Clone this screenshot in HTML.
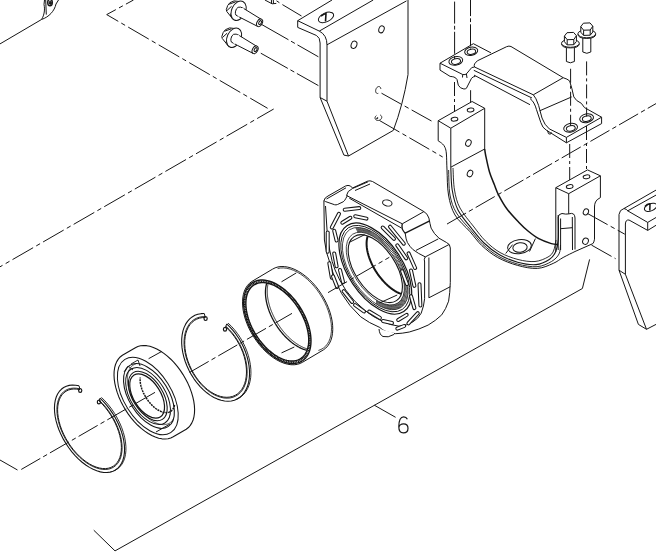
<!DOCTYPE html>
<html><head><meta charset="utf-8"><style>
html,body{margin:0;padding:0;background:#fff;}
body{width:656px;height:556px;overflow:hidden;position:relative;}
svg{position:absolute;left:0;top:0;}
.lbl{position:absolute;left:396px;top:411px;font-family:"Liberation Sans",sans-serif;font-size:22px;color:#333;line-height:22px;}
</style></head><body>
<svg width="656" height="556" viewBox="0 0 656 556" fill="none" stroke="#151515" stroke-width="1" stroke-linejoin="round">
<path d="M0,43.9 L41.5,19.5" />
<path d="M41.5,19.5 C44.5,15 45,9 44,4.5 L44.5,0" />
<path d="M41.5,19.5 C49,17 54.5,11 56,4 L58.5,0" />
<path d="M45.7,0 L46.3,14.6" />
<ellipse cx="50.00" cy="2.60" rx="2.30" ry="3.20" transform="rotate(0 50.00 2.60)" stroke-width="1.4"/>
<ellipse cx="50.30" cy="2.80" rx="1.10" ry="1.60" transform="rotate(0 50.30 2.80)" fill="#222"/>
<path d="M133.5,0 L106.7,14.6 L267.6,108.3" stroke-dasharray="23.8 3.5 4.4 3.6" stroke-dashoffset="15.2"/>
<path d="M273.7,109 L0,266.8" stroke-dasharray="23.8 3.5 4.4 3.6" stroke-dashoffset="4.7"/>
<g transform="translate(238.6,10.7)">
<path d="M-4.5,-9.8 L-8.7,-8 L-10.9,-5.2 L-12.3,-1.1 L-11.9,0.7 L-8.2,5.3 L-5.5,9 L0,8 L2,-9 Z" fill="#fff"/>
<path d="M-9.5,-6.5 L-3,-8.8 M-11.6,-0.2 L-7,-4.5 M-8.2,5.3 L-6.5,0" />
<ellipse cx="0.00" cy="0.00" rx="6.90" ry="10.20" transform="rotate(25 0.00 0.00)" fill="#fff"/>
<path d="M-3.2,1.2 Q-2.6,-2.4 -0.5,-3.4 Q2,-4.2 4.6,-2.5 L22.8,8.7 L19,15.7 L3.2,7.6 L-2.7,4.4 Q-3.4,3 -3.2,1.2 Z" fill="#fff"/>
<path d="M4.6,-2.5 L-0.3,5.8" stroke="#fff" stroke-width="2"/>
<ellipse cx="21.00" cy="12.10" rx="2.60" ry="4.10" transform="rotate(28 21.00 12.10)" fill="#fff"/>
<ellipse cx="21.50" cy="11.90" rx="1.20" ry="2.10" transform="rotate(28 21.50 11.90)" />
</g>
<g transform="translate(234.1,37.7)">
<path d="M-4.5,-9.8 L-8.7,-8 L-10.9,-5.2 L-12.3,-1.1 L-11.9,0.7 L-8.2,5.3 L-5.5,9 L0,8 L2,-9 Z" fill="#fff"/>
<path d="M-9.5,-6.5 L-3,-8.8 M-11.6,-0.2 L-7,-4.5 M-8.2,5.3 L-6.5,0" />
<ellipse cx="0.00" cy="0.00" rx="6.90" ry="10.20" transform="rotate(25 0.00 0.00)" fill="#fff"/>
<path d="M-3.2,1.2 Q-2.6,-2.4 -0.5,-3.4 Q2,-4.2 4.6,-2.5 L22.8,8.7 L19,15.7 L3.2,7.6 L-2.7,4.4 Q-3.4,3 -3.2,1.2 Z" fill="#fff"/>
<path d="M4.6,-2.5 L-0.3,5.8" stroke="#fff" stroke-width="2"/>
<ellipse cx="21.00" cy="12.10" rx="2.60" ry="4.10" transform="rotate(28 21.00 12.10)" fill="#fff"/>
<ellipse cx="21.50" cy="11.90" rx="1.20" ry="2.10" transform="rotate(28 21.50 11.90)" />
</g>
<path d="M261.5,24.4 L318.4,56.8" stroke-dasharray="31 3 4.4 3"/>
<path d="M260.8,53.2 L318.4,85.6" stroke-dasharray="31 3 4.4 3"/>
<path d="M282.4,4.6 L301.5,16" />
<path d="M264.9,0 L272.1,3.8 L276.3,3.4 M271.4,0 L271.6,3.5 M273.3,0 L273.5,3.6 M276.5,0.8 L279.4,2.7" />
<path d="M332,0 L297.7,20.7 L297.7,27.4 L316.5,35.5 Q320.1,37.5 320.1,43 L320.1,97.5 L343.9,155.1 L348.5,156 L393.3,130.4 Q403,105 408,74.6 L408,0" />
<path d="M297.7,20.7 L319.3,31.1 Q327,35 327,45 L327,101.2 L348.5,156" />
<path d="M320.1,97.5 L327,101.2" />
<path d="M319.3,31.1 L373.2,0" />
<path d="M327,44.8 L406.5,0.9" />
<ellipse cx="326.00" cy="17.40" rx="8.20" ry="4.40" transform="rotate(-25 326.00 17.40)" />
<path d="M321,16 Q324,14 326,13.5 L325.5,21.5" stroke-width="1.6"/>
<ellipse cx="381.50" cy="29.30" rx="2.60" ry="3.60" transform="rotate(20 381.50 29.30)" />
<ellipse cx="354.00" cy="44.80" rx="2.80" ry="3.80" transform="rotate(20 354.00 44.80)" />
<path d="M378.26,93.34 L377.99,93.42 L377.73,93.47 L377.46,93.48 L377.21,93.45 L376.97,93.38 L376.74,93.28 L376.53,93.14 L376.33,92.96 L376.16,92.76 L376.01,92.52 L375.88,92.25 L375.78,91.96 L375.70,91.65 L375.65,91.32 L375.63,90.98 L375.64,90.63 L375.67,90.26 L375.74,89.90 L375.83,89.54 L375.94,89.18 L376.09,88.83 L376.25,88.49 L376.44,88.17 L376.64,87.87 L376.86,87.60 L377.10,87.35 L377.35,87.13 L377.61,86.94 L377.87,86.78 L378.14,86.66 L378.41,86.58 L378.67,86.53 L378.94,86.52 L379.19,86.55 L379.43,86.62 L379.66,86.72 L379.87,86.86 L380.07,87.04 L380.24,87.24 L380.39,87.48 L380.52,87.75 L380.62,88.04 L380.70,88.35 L380.75,88.68 L380.77,89.02"/>
<path d="M380.23,115.02 L380.52,115.17 L380.77,115.34 L381.01,115.54 L381.21,115.76 L381.39,116.01 L381.53,116.27 L381.63,116.54 L381.70,116.83 L381.73,117.13 L381.73,117.43 L381.69,117.73 L381.61,118.03 L381.50,118.33 L381.35,118.62 L381.17,118.90 L380.96,119.16 L380.72,119.41 L380.45,119.63 L380.16,119.83 L379.85,120.01 L379.53,120.16 L379.19,120.29 L378.85,120.38 L378.50,120.44 L378.15,120.47 L377.80,120.47 L377.46,120.44 L377.12,120.37 L376.81,120.28 L376.51,120.15 L376.23,120.00 L375.97,119.82 L375.75,119.62 L375.55,119.39 L375.38,119.14 L375.25,118.88 L375.15,118.60 L375.09,118.31 L375.07,118.01 L375.08,117.71 L375.13,117.41 L375.21,117.11 L375.33,116.81 L375.49,116.52 L375.67,116.25 L375.89,115.99 L376.14,115.75 L376.41,115.53"/>
<path d="M376.5,119 L378,117.5" stroke-width="1.3"/>
<path d="M381.5,93.2 L431.5,121" stroke-dasharray="23 3.5 4.5 3.5"/>
<path d="M379.5,120.5 L442.7,157" stroke-dasharray="23 3.5 4.5 3.5"/>
<path d="M619,271 L619,215 Q619.5,209.8 624,208.5 L656,190.1 L656,332 L646.5,329.3 L638.4,324.4 Z" fill="#fff" stroke="none"/>
<path d="M619,214.5 Q619.5,209.8 624,208.5 L656,190.1" />
<path d="M627.6,210.9 L656,195.1" />
<path d="M624,208.5 Q626.5,209 628,211 L647.7,222.4 L656,217.5" />
<path d="M647.7,222.4 L647.7,230.4 L656,225.3" />
<path d="M625.4,224 Q625.6,219.5 629,220 L647.7,230.4" />
<path d="M619,214.5 L619,270.2 L638.4,324.4 L646.5,329.3 L656,324.4" />
<path d="M625.4,224 L625.4,274.3 L646.5,329.3 M619,270.2 L625.4,274.3" />
<ellipse cx="650.60" cy="207.30" rx="6.50" ry="3.60" transform="rotate(-22 650.60 207.30)" />
<path d="M645,206.5 Q647,204 650,203.8 L649.8,210.5" stroke-width="1.5"/>
<path d="M440,63.2 L473.4,43.7 L491,52.9 L507.7,46 L511,46.5 L563.2,77.7 Q568,79 569.6,80.9 L573.8,96.9 Q576,101 581.3,103.3 L584.5,107.6 L601.6,117.2 L601.6,123.6 L566.4,142.8 L549.3,131 L546.1,130 L540.8,122.5 L536.5,109.7 L530,104.7 L475.3,76.4 L471.5,78.3 L466.4,88.3 L463.9,89 L458.3,85.2 L457,79.5 L453.9,77 L450.1,76.4 L440,70.1 Z" fill="#fff" stroke="none"/>
<path d="M440,63.2 L473.4,43.7 L491,52.9" />
<path d="M440,63.2 L440,70.1 L450.1,76.4 Q452.5,76.6 453.9,77 Q456.3,78 457,79.5 L458.3,85.2 Q460,88.5 463.9,89 Q465.5,89 466.4,88.3 L471.5,78.3 Q473,76.5 475.3,76.4" />
<path d="M440,63.2 L462.7,74.5 Q465.5,75 466.4,73.9 L469.6,70.1 Q471.5,66.5 474.6,67" />
<path d="M462.7,74.5 L462.5,77.5 M466.4,73.9 L467,78" />
<path d="M474.6,67 Q473,64 477.8,60.6 L506.6,46.7 Q509,45.6 511,46.5 L563.2,77.7" />
<path d="M474.6,67 L533.3,94.8 L563.2,77.7" />
<path d="M473.8,70.3 L532,98" />
<path d="M474,75.1 L530,104.7" />
<path d="M533.3,94.8 Q536,97.5 538.6,105.4 L542,118 Q544.5,125 549.3,128.9 L566.4,137.4 L601.6,117.2 L584.5,107.6" />
<path d="M530,98.5 Q534.5,102 536.5,109.7 L540.8,122.5 Q542.5,128 546.1,130 L566.4,142.8" />
<path d="M539.7,110.8 L571.7,96.9" />
<path d="M563.2,77.7 Q567.5,79 569.6,80.9 Q572,88 573.8,96.9 Q576,101 581.3,103.3 L584.5,107.6" />
<path d="M566.4,137.4 L566.4,142.8 L601.6,123.6 L601.6,117.2" />
<path d="M547.5,130.5 Q548,135 550.4,134.2 L551.5,132.5" />
<ellipse cx="455.80" cy="60.90" rx="7.00" ry="4.30" transform="rotate(-12 455.80 60.90)" />
<ellipse cx="456.00" cy="61.40" rx="4.60" ry="2.80" transform="rotate(-12 456.00 61.40)" />
<ellipse cx="471.20" cy="51.30" rx="6.60" ry="4.10" transform="rotate(-12 471.20 51.30)" />
<ellipse cx="471.40" cy="51.80" rx="4.30" ry="2.60" transform="rotate(-12 471.40 51.80)" />
<ellipse cx="570.60" cy="127.80" rx="7.00" ry="4.30" transform="rotate(-12 570.60 127.80)" />
<ellipse cx="570.80" cy="128.30" rx="4.50" ry="2.70" transform="rotate(-12 570.80 128.30)" />
<ellipse cx="586.60" cy="118.20" rx="7.00" ry="4.30" transform="rotate(-12 586.60 118.20)" />
<ellipse cx="586.80" cy="118.70" rx="4.50" ry="2.70" transform="rotate(-12 586.80 118.70)" />
<path d="M454.6,0 L454.6,59" stroke-dasharray="22 2.2 3.8 2.2" stroke-dashoffset="28.6"/>
<path d="M470.5,0 L470.5,50" stroke-dasharray="22 2.2 3.8 2.2" stroke-dashoffset="5.9"/>
<path d="M454.5,82 L454.5,117.5" stroke-dasharray="14 3 3 3"/>
<path d="M470.6,90.2 L470.6,108.5" stroke-dasharray="14 3 3 3"/>
<path d="M570.6,68.75 L570.6,126" stroke-dasharray="14 3 3 3"/>
<path d="M586.6,61.4 L586.6,116.5" stroke-dasharray="14 3 3 3"/>
<path d="M569.7,144 L569.7,186" stroke-dasharray="14 3 3 3"/>
<path d="M586.5,126 L586.5,176.5" stroke-dasharray="14 3 3 3"/>
<g transform="translate(570.4,43.3)">
<path d="M-4,3.5 L-4,18.2 Q0,20.8 4,18.2 L4,3.5 Z" fill="#fff"/>
<path d="M-8.9,0.3 Q-8.9,4.6 0,4.6 Q8.9,4.6 8.9,0.3" fill="#fff"/>
<ellipse cx="0.00" cy="0.00" rx="8.90" ry="4.00" transform="rotate(0 0.00 0.00)" fill="#fff"/>
<path d="M-6,-7.2 L-3.4,-10.6 L3.2,-10.9 L6,-7.6 L6,-1.8 L3.4,1.4 L-3.2,1.6 L-6,-1.6 Z" fill="#fff"/>
<path d="M-6,-7.2 L-3.2,-3.6 L3.4,-3.8 L6,-7.6 M-3.2,-3.6 L-3.2,1.6 M3.4,-3.8 L3.4,1.4" />
</g>
<g transform="translate(586.8,33.8)">
<path d="M-4,3.5 L-4,18.2 Q0,20.8 4,18.2 L4,3.5 Z" fill="#fff"/>
<path d="M-8.9,0.3 Q-8.9,4.6 0,4.6 Q8.9,4.6 8.9,0.3" fill="#fff"/>
<ellipse cx="0.00" cy="0.00" rx="8.90" ry="4.00" transform="rotate(0 0.00 0.00)" fill="#fff"/>
<path d="M-6,-7.2 L-3.4,-10.6 L3.2,-10.9 L6,-7.6 L6,-1.8 L3.4,1.4 L-3.2,1.6 L-6,-1.6 Z" fill="#fff"/>
<path d="M-6,-7.2 L-3.2,-3.6 L3.4,-3.8 L6,-7.6 M-3.2,-3.6 L-3.2,1.6 M3.4,-3.8 L3.4,1.4" />
</g>
<path d="M438.2,120.7 L472.1,101.5 L484.7,108.3 L450.8,128.2 Z" fill="#fff"/>
<ellipse cx="454.50" cy="119.20" rx="3.40" ry="1.90" transform="rotate(-8 454.50 119.20)" />
<ellipse cx="470.60" cy="110.00" rx="3.40" ry="1.90" transform="rotate(-8 470.60 110.00)" />
<path d="M438.2,120.7 L438.2,140.8 L438.20,140.80 C438.93,141.33 441.45,142.85 442.60,144.00 C443.75,145.15 444.47,146.03 445.10,147.70 C445.73,149.37 446.08,150.28 446.40,154.00 C446.72,157.72 446.65,163.17 447.00,170.00 C447.35,176.83 447.17,187.50 448.50,195.00 C449.83,202.50 451.42,208.88 455.00,215.00 C458.58,221.12 465.52,226.60 470.00,231.70 C474.48,236.80 477.28,241.30 481.90,245.60 C486.52,249.90 491.75,254.20 497.70,257.50 C503.65,260.80 510.98,263.58 517.60,265.40 C524.22,267.22 531.47,268.73 537.40,268.40 C543.33,268.07 548.92,265.22 553.20,263.40 C557.48,261.58 559.47,259.48 563.10,257.50 C566.73,255.52 573.02,252.50 575.00,251.50" />
<path d="M450.8,128.2 L450.8,167.2 L484.7,149 L484.7,108.3" />
<path d="M484.70,149.00 C484.85,150.00 484.80,151.17 485.60,155.00 C486.40,158.83 488.02,167.00 489.50,172.00 C490.98,177.00 493.00,181.20 494.50,185.00 C496.00,188.80 496.42,190.80 498.50,194.80 C500.58,198.80 503.63,204.43 507.00,209.00 C510.37,213.57 515.20,218.53 518.70,222.20 C522.20,225.87 524.65,228.25 528.00,231.00 C531.35,233.75 534.92,236.60 538.80,238.70 C542.68,240.80 548.07,242.62 551.30,243.60 C554.53,244.58 557.05,244.43 558.20,244.60" stroke-width="1.5"/>
<path d="M450.80,167.20 C451.03,171.00 451.00,182.87 452.20,190.00 C453.40,197.13 454.70,203.50 458.00,210.00 C461.30,216.50 467.67,223.50 472.00,229.00 C476.33,234.50 479.50,238.75 484.00,243.00 C488.50,247.25 493.40,251.30 499.00,254.50 C504.60,257.70 511.43,260.52 517.60,262.20 C523.77,263.88 530.72,265.05 536.00,264.60 C541.28,264.15 546.05,261.60 549.30,259.50 C552.55,257.40 554.02,255.25 555.50,252.00 C556.98,248.75 557.75,246.17 558.20,240.00 C558.65,233.83 558.20,219.17 558.20,215.00" stroke-width="1.1"/>
<path d="M448.60,170.00 C448.83,174.17 448.68,187.83 450.00,195.00 C451.32,202.17 453.00,207.08 456.50,213.00 C460.00,218.92 466.58,225.25 471.00,230.50 C475.42,235.75 478.42,240.20 483.00,244.50 C487.58,248.80 492.75,253.05 498.50,256.30 C504.25,259.55 511.08,262.27 517.50,264.00 C523.92,265.73 531.33,267.12 537.00,266.70 C542.67,266.28 547.83,263.62 551.50,261.50 C555.17,259.38 557.50,256.75 559.00,254.00 C560.50,251.25 560.25,246.50 560.50,245.00" stroke-width="0.9"/>
<path d="M453.00,168.00 C453.25,171.67 453.33,183.33 454.50,190.00 C455.67,196.67 456.75,201.83 460.00,208.00 C463.25,214.17 469.75,221.50 474.00,227.00 C478.25,232.50 481.17,236.75 485.50,241.00 C489.83,245.25 494.58,249.42 500.00,252.50 C505.42,255.58 512.17,258.00 518.00,259.50 C523.83,261.00 530.00,261.92 535.00,261.50 C540.00,261.08 544.92,258.75 548.00,257.00 C551.08,255.25 552.17,253.83 553.50,251.00 C554.83,248.17 555.58,241.83 556.00,240.00" stroke-width="0.9"/>
<ellipse cx="468.40" cy="143.00" rx="2.60" ry="3.40" transform="rotate(25 468.40 143.00)" />
<ellipse cx="470.00" cy="173.50" rx="2.60" ry="3.40" transform="rotate(25 470.00 173.50)" />
<ellipse cx="519.50" cy="246.60" rx="11.90" ry="7.00" transform="rotate(-8 519.50 246.60)" />
<ellipse cx="520.00" cy="247.50" rx="7.20" ry="4.80" transform="rotate(-8 520.00 247.50)" />
<path d="M505.7,253.5 L512.6,244.6 M535.4,238.6 L529.5,251.5" />
<path d="M555.8,187.7 L587.5,169.9 L600.4,175.8 L568.7,193.7 Z" fill="#fff"/>
<ellipse cx="569.70" cy="186.60" rx="3.40" ry="1.90" transform="rotate(-8 569.70 186.60)" />
<ellipse cx="586.50" cy="176.80" rx="3.40" ry="1.90" transform="rotate(-8 586.50 176.80)" />
<path d="M555.8,187.7 L555.8,252 M568.7,193.7 L568.7,213.9" />
<path d="M600.4,175.8 L600.4,197.6 Q596.5,199.5 595.5,202 Q594.5,204 594.5,207 L594.5,239.2 Q594,242.5 592.9,243.6 L575,251.5" />
<path d="M558.2,250 L558.2,217 Q558.5,214 562,213.5 Q566,214.5 568.7,213.9 Q572,212.8 573.5,214 Q575,215.5 575,218 L575,249.5" />
<path d="M560.6,250 L560.6,218.5 M572.3,217 L572.5,250 M560.6,228.7 L572.3,227.7" />
<ellipse cx="585.90" cy="211.90" rx="2.50" ry="3.20" transform="rotate(25 585.90 211.90)" />
<ellipse cx="585.50" cy="241.20" rx="2.80" ry="3.20" transform="rotate(25 585.50 241.20)" />
<path d="M587.5,213.5 L624.8,234.2" stroke-dasharray="23 3.5 4.5 3.5"/>
<path d="M591.5,245.1 L615.6,258.7" stroke-dasharray="23 3.5 4.5 3.5"/>
<path d="M323.9,201 Q324.5,197.5 328,196 L345.5,186 Q348,184.8 350.5,186 L352.5,188 L367.5,181.2 Q370,180.3 372.5,181.5 L423.9,211.6 Q427.5,213.5 428.9,218.1 Q430,224 431.1,228.1 Q434,234 439,238.2 L446.5,242.5 Q450.3,244 450.3,248 L450.3,282.4 Q450,293 448.6,301.2 Q446,309 441.7,314.9 Q436,320.5 428.1,325.1 Q419,329.5 409.3,332 Q402,333.5 395.6,333.7 L387.1,332 Q382,330 379.9,327.5 Q369,323 360.7,316.8 Q349,306 341.5,293.4 Q334,280 330.8,265.6 Q325.5,252 324.4,240 Z" fill="#fff"/>
<path d="M324.2,200.5 Q324.5,201.5 325.6,201.6 L334.5,204.7 Q336,205.2 337.5,204.5 L343.2,201.8 Q345,200.5 345.9,198.3 L347.5,195.4" />
<path d="M326.5,199 L346,187.8" />
<path d="M352.5,188.5 Q347,191 346.5,195.5 L402.3,223.8 L423.9,211.6" />
<path d="M352.5,188.5 L368,181.8" />
<path d="M355,190.5 L370,184" />
<path d="M349.3,198.2 L401.6,228.1" />
<path d="M402.3,223.8 Q400.8,229 405.2,233.2 L429.7,220.9" stroke-width="1.3"/>
<path d="M405.2,233.2 Q406,240 407.4,242.5 Q410,247 413.1,249.7 Q418,253.5 425.3,256.9 L449.1,244.5" />
<path d="M416,250.4 L438.3,238.9" />
<path d="M425.3,256.9 Q423.6,259 424.6,262 L424.6,298.7" />
<path d="M428.9,257.5 L428.9,297.8 L450.3,286.7" />
<path d="M325.5,206 L326.5,222 Q327.5,240 329.7,250 Q332,263 335.1,270 Q339,280 345.7,290 Q354,302 364.9,310.4 Q373,317 382,321.1 Q391,325.5 399,326.2 Q407,325.5 412.7,322 Q418.5,318.5 421.2,313.2 Q424,306 424.6,298.7" />
<path d="M379,329 Q379.5,335 383,336.5 Q388,338 393.9,334.5 L395,333" fill="#fff"/>
<ellipse cx="387.30" cy="203.00" rx="4.80" ry="3.00" transform="rotate(12 387.30 203.00)" />
<ellipse cx="375.30" cy="268.60" rx="27.20" ry="51.50" transform="rotate(-33.5 375.30 268.60)" fill="#fff" stroke-width="1.2"/>
<ellipse cx="375.30" cy="268.60" rx="25.84" ry="48.92" transform="rotate(-33.5 375.30 268.60)" stroke-width="0.9"/>
<ellipse cx="375.30" cy="268.60" rx="24.62" ry="46.61" transform="rotate(-33.5 375.30 268.60)" stroke-width="0.7"/>
<ellipse cx="375.30" cy="268.60" rx="21.76" ry="41.20" transform="rotate(-33.5 375.30 268.60)" stroke-width="0.7"/>
<path d="M355.9,227.8L358.0,232.3M356.8,227.7L358.9,232.2M357.8,227.7L359.7,232.2M358.7,227.7L360.6,232.2M359.7,227.7L361.5,232.3M360.7,227.9L362.4,232.4M361.8,228.0L363.3,232.5M362.8,228.2L364.2,232.7M363.9,228.5L365.2,233.0M365.0,228.8L366.1,233.2M366.1,229.2L367.1,233.6M367.2,229.6L368.1,233.9M368.3,230.1L369.0,234.3M369.4,230.6L370.0,234.8M370.5,231.1L371.0,235.3M371.6,231.7L372.1,235.8M372.8,232.4L373.1,236.4M373.9,233.0L374.1,237.0M375.1,233.8L375.1,237.6M376.2,234.5L376.1,238.3M377.3,235.4L377.1,239.1M378.5,236.2L378.1,239.8M379.6,237.1L379.1,240.6M380.8,238.0L380.1,241.4M381.9,239.0L381.1,242.3M383.0,240.0L382.1,243.2M384.1,241.1L383.1,244.1M385.2,242.1L384.1,245.1M386.3,243.2L385.1,246.1M387.3,244.4L386.0,247.1M388.4,245.5L386.9,248.1M389.4,246.7L387.9,249.2M390.5,248.0L388.8,250.3M391.5,249.2L389.7,251.4M392.4,250.5L390.5,252.5M393.4,251.8L391.4,253.6M394.3,253.1L392.2,254.8M395.3,254.4L393.0,256.0M396.2,255.8L393.8,257.2M397.0,257.1L394.6,258.4M397.9,258.5L395.4,259.6M398.7,259.9L396.1,260.9M399.5,261.3L396.8,262.1M400.2,262.7L397.5,263.4M400.9,264.1L398.1,264.6M401.6,265.6L398.7,265.9M402.3,267.0L399.3,267.2M402.9,268.4L399.9,268.4M403.5,269.8L400.4,269.7M404.1,271.3L400.9,271.0M404.6,272.7L401.4,272.2M405.1,274.1L401.8,273.5M405.6,275.5L402.2,274.8M406.0,276.9L402.6,276.0M406.4,278.3L402.9,277.2M406.7,279.7L403.2,278.5M407.0,281.1L403.5,279.7M407.3,282.4L403.7,280.9M407.5,283.8L403.9,282.1M407.7,285.1L404.1,283.2M407.8,286.4L404.2,284.4M407.9,287.7L404.3,285.5M408.0,288.9L404.4,286.6M408.0,290.1L404.4,287.7M408.0,291.3L404.4,288.8M408.0,292.5L404.3,289.9M407.9,293.7L404.3,290.9M407.7,294.8L404.1,291.9M407.6,295.9L404.0,292.8M407.4,296.9L403.8,293.8M407.1,297.9L403.6,294.7M406.8,298.9L403.3,295.5M406.5,299.8L403.0,296.4M406.1,300.7L402.7,297.2M405.7,301.6L402.4,297.9M405.3,302.4L402.0,298.7M404.8,303.2L401.5,299.4M404.3,304.0L401.1,300.0M403.8,304.7L400.6,300.7M403.2,305.3L400.1,301.2M402.6,305.9L399.5,301.8M401.9,306.5L399.0,302.3M401.2,307.0L398.4,302.7M400.5,307.5L397.7,303.2M399.8,307.9L397.1,303.5M399.0,308.3L396.4,303.9M398.2,308.6L395.7,304.2M397.4,308.9L394.9,304.4M396.5,309.1L394.2,304.6M395.6,309.3L393.4,304.8M394.7,309.4L392.6,304.9M393.8,309.5L391.7,305.0M392.8,309.5L390.9,305.0M391.9,309.5L390.0,305.0M390.9,309.5L389.1,304.9M389.9,309.3L388.2,304.8M388.8,309.2L387.3,304.7M387.8,309.0L386.4,304.5M386.7,308.7L385.4,304.2M385.6,308.4L384.5,304.0M384.5,308.0L383.5,303.6M383.4,307.6L382.5,303.3M382.3,307.1L381.6,302.9M381.2,306.6L380.6,302.4M380.1,306.1L379.6,301.9M379.0,305.5L378.5,301.4M377.8,304.8L377.5,300.8M376.7,304.2L376.5,300.2" stroke-width="0.75"/>
<ellipse cx="375.30" cy="268.60" rx="20.26" ry="38.37" transform="rotate(-33.5 375.30 268.60)" stroke-width="1.1"/>
<path d="M401.10,293.90 L400.65,293.74 L400.20,293.57 L399.74,293.38 L399.28,293.19 L398.82,292.99 L398.36,292.77 L397.90,292.55 L397.44,292.32 L396.97,292.08 L396.51,291.83 L396.04,291.57 L395.57,291.30 L395.10,291.02 L394.63,290.73 L394.16,290.44 L393.69,290.13 L393.22,289.82 L392.75,289.50 L392.28,289.17 L391.82,288.83 L391.35,288.48 L390.88,288.13 L390.41,287.76 L389.95,287.39 L389.48,287.01 L389.02,286.62 L388.56,286.23 L388.09,285.83 L387.64,285.42 L387.18,285.00 L386.72,284.57 L386.27,284.14 L385.82,283.71 L385.37,283.26 L384.92,282.81 L384.48,282.35 L384.04,281.89 L383.60,281.42 L383.16,280.94 L382.73,280.46 L382.30,279.97 L381.88,279.47 L381.46,278.97 L381.04,278.47 L380.62,277.96 L380.21,277.44 L379.81,276.92 L379.40,276.40 L379.01,275.87 L378.61,275.34 L378.22,274.80 L377.84,274.26 L377.46,273.71 L377.09,273.16 L376.72,272.61 L376.35,272.05 L375.99,271.49 L375.64,270.93 L375.29,270.37 L374.95,269.80 L374.61,269.23 L374.28,268.65 L373.95,268.08 L373.63,267.50 L373.32,266.92 L373.01,266.34 L372.71,265.76 L372.41,265.18 L372.13,264.59 L371.84,264.01 L371.57,263.42 L371.30,262.83 L371.04,262.25 L370.78,261.66 L370.53,261.07 L370.29,260.48 L370.06,259.90 L369.83,259.31 L369.61,258.72 L369.40,258.14 L369.19,257.55 L369.00,256.97 L368.81,256.39 L368.62,255.81 L368.45,255.23 L368.28,254.66 L368.12,254.08 L367.97,253.51 L367.82,252.94 L367.69,252.37 L367.56,251.81 L367.44,251.25 L367.32,250.69 L367.22,250.13 L367.12,249.58 L367.03,249.04 L366.95,248.49 L366.88,247.95 L366.81,247.42 L366.76,246.88 L366.71,246.36 L366.67,245.83 L366.64,245.32 L366.61,244.80 L366.60,244.30 L366.59,243.79 L366.59,243.30 L366.60,242.81 L366.62,242.32 L366.64,241.84 L366.68,241.37 L366.72,240.90 L366.77,240.44 L366.83,239.98 L366.89,239.53 L366.97,239.09 L367.05,238.66 L367.14,238.23 L367.24,237.81 L367.34,237.39 L367.46,236.99 L367.58,236.59 L367.71,236.20" stroke-width="2"/>
<path d="M348.8,242.6 L364.6,234.7 M379.4,303 L397.2,295" />
<path d="M331.8,227.5 L339,213.8" stroke-width="4.0" stroke-linecap="round" stroke="#151515"/>
<path d="M331.8,227.5 L339,213.8" stroke-width="1.9" stroke-linecap="round" stroke="#fff"/>
<path d="M342.3,222.7 L350.4,217.8" stroke-width="4.0" stroke-linecap="round" stroke="#151515"/>
<path d="M342.3,222.7 L350.4,217.8" stroke-width="1.9" stroke-linecap="round" stroke="#fff"/>
<path d="M355.2,216.2 L366.5,218.6" stroke-width="4.0" stroke-linecap="round" stroke="#151515"/>
<path d="M355.2,216.2 L366.5,218.6" stroke-width="1.9" stroke-linecap="round" stroke="#fff"/>
<path d="M344.7,209.7 L359.3,208.1" stroke-width="4.0" stroke-linecap="round" stroke="#151515"/>
<path d="M344.7,209.7 L359.3,208.1" stroke-width="1.9" stroke-linecap="round" stroke="#fff"/>
<path d="M327.7,232.4 L327.7,251.8" stroke-width="4.0" stroke-linecap="round" stroke="#151515"/>
<path d="M327.7,232.4 L327.7,251.8" stroke-width="1.9" stroke-linecap="round" stroke="#fff"/>
<path d="M334.2,230.7 L336.6,240.5" stroke-width="4.0" stroke-linecap="round" stroke="#151515"/>
<path d="M334.2,230.7 L336.6,240.5" stroke-width="1.9" stroke-linecap="round" stroke="#fff"/>
<path d="M334.2,253.4 L336.6,266.3" stroke-width="4.0" stroke-linecap="round" stroke="#151515"/>
<path d="M334.2,253.4 L336.6,266.3" stroke-width="1.9" stroke-linecap="round" stroke="#fff"/>
<path d="M329.3,263.1 L331.8,277.7" stroke-width="4.0" stroke-linecap="round" stroke="#151515"/>
<path d="M329.3,263.1 L331.8,277.7" stroke-width="1.9" stroke-linecap="round" stroke="#fff"/>
<path d="M382.7,227.5 L394,238.8" stroke-width="4.0" stroke-linecap="round" stroke="#151515"/>
<path d="M382.7,227.5 L394,238.8" stroke-width="1.9" stroke-linecap="round" stroke="#fff"/>
<path d="M390,226.7 L403.8,243.7" stroke-width="4.0" stroke-linecap="round" stroke="#151515"/>
<path d="M390,226.7 L403.8,243.7" stroke-width="1.9" stroke-linecap="round" stroke="#fff"/>
<path d="M397.3,245.3 L406.2,258.3" stroke-width="4.0" stroke-linecap="round" stroke="#151515"/>
<path d="M397.3,245.3 L406.2,258.3" stroke-width="1.9" stroke-linecap="round" stroke="#fff"/>
<path d="M408.6,253.4 L415.1,268" stroke-width="4.0" stroke-linecap="round" stroke="#151515"/>
<path d="M408.6,253.4 L415.1,268" stroke-width="1.9" stroke-linecap="round" stroke="#fff"/>
<path d="M402.1,271.2 L407,284.1" stroke-width="4.0" stroke-linecap="round" stroke="#151515"/>
<path d="M402.1,271.2 L407,284.1" stroke-width="1.9" stroke-linecap="round" stroke="#fff"/>
<path d="M411,270.5 L414.4,285.9" stroke-width="4.0" stroke-linecap="round" stroke="#151515"/>
<path d="M411,270.5 L414.4,285.9" stroke-width="1.9" stroke-linecap="round" stroke="#fff"/>
<path d="M419.5,284.2 L420.4,305.5" stroke-width="4.0" stroke-linecap="round" stroke="#151515"/>
<path d="M419.5,284.2 L420.4,305.5" stroke-width="1.9" stroke-linecap="round" stroke="#fff"/>
<path d="M411,296.1 L414.4,308.1" stroke-width="4.0" stroke-linecap="round" stroke="#151515"/>
<path d="M411,296.1 L414.4,308.1" stroke-width="1.9" stroke-linecap="round" stroke="#fff"/>
<path d="M408.4,323.4 L417.8,313.2" stroke-width="4.0" stroke-linecap="round" stroke="#151515"/>
<path d="M408.4,323.4 L417.8,313.2" stroke-width="1.9" stroke-linecap="round" stroke="#fff"/>
<path d="M398.2,320 L406.7,314.9" stroke-width="4.0" stroke-linecap="round" stroke="#151515"/>
<path d="M398.2,320 L406.7,314.9" stroke-width="1.9" stroke-linecap="round" stroke="#fff"/>
<path d="M397.3,328.6 L404.2,326" stroke-width="4.0" stroke-linecap="round" stroke="#151515"/>
<path d="M397.3,328.6 L404.2,326" stroke-width="1.9" stroke-linecap="round" stroke="#fff"/>
<path d="M369.2,311.5 L379.9,317.9" stroke-width="4.0" stroke-linecap="round" stroke="#151515"/>
<path d="M369.2,311.5 L379.9,317.9" stroke-width="1.9" stroke-linecap="round" stroke="#fff"/>
<path d="M343.6,291.2 L352.1,301.9" stroke-width="4.0" stroke-linecap="round" stroke="#151515"/>
<path d="M343.6,291.2 L352.1,301.9" stroke-width="1.9" stroke-linecap="round" stroke="#fff"/>
<path d="M333,276.3 L337.2,287" stroke-width="4.0" stroke-linecap="round" stroke="#151515"/>
<path d="M333,276.3 L337.2,287" stroke-width="1.9" stroke-linecap="round" stroke="#fff"/>
<path d="M340,270 L343,282" stroke-width="4.0" stroke-linecap="round" stroke="#151515"/>
<path d="M340,270 L343,282" stroke-width="1.9" stroke-linecap="round" stroke="#fff"/>
<path d="M355,305 L364,311.5" stroke-width="4.0" stroke-linecap="round" stroke="#151515"/>
<path d="M355,305 L364,311.5" stroke-width="1.9" stroke-linecap="round" stroke="#fff"/>
<path d="M383,321 L392,323" stroke-width="4.0" stroke-linecap="round" stroke="#151515"/>
<path d="M383,321 L392,323" stroke-width="1.9" stroke-linecap="round" stroke="#fff"/>
<path d="M302.79,362.12 L300.18,363.46 L297.31,364.35 L294.23,364.77 L290.96,364.72 L287.54,364.20 L284.01,363.21 L280.41,361.77 L276.77,359.90 L273.13,357.60 L269.55,354.92 L266.05,351.87 L262.67,348.49 L259.45,344.82 L256.43,340.89 L253.63,336.76 L251.10,332.47 L248.85,328.05 L246.91,323.57 L245.31,319.07 L244.06,314.60 L243.17,310.21 L242.66,305.94 L242.52,301.85 L242.77,297.98 L243.39,294.36 L244.39,291.05 L245.75,288.08 L247.45,285.47 L249.48,283.27 L251.81,281.48 L272.51,269.18 L275.12,267.84 L277.99,266.95 L281.07,266.53 L284.34,266.58 L287.76,267.10 L291.29,268.09 L294.89,269.53 L298.53,271.40 L302.17,273.70 L305.75,276.38 L309.25,279.43 L312.63,282.81 L315.85,286.48 L318.87,290.41 L321.67,294.54 L324.20,298.83 L326.45,303.25 L328.39,307.73 L329.99,312.23 L331.24,316.70 L332.13,321.09 L332.64,325.36 L332.78,329.45 L332.53,333.32 L331.91,336.94 L330.91,340.25 L329.55,343.22 L327.85,345.83 L325.82,348.03 L323.49,349.82 Z" fill="#fff" />
<path d="M277.62,268.56 L280.51,268.01 L283.60,267.93 L286.84,268.30 L290.20,269.12 L293.65,270.38 L297.15,272.07 L300.65,274.17 L304.13,276.66 L307.54,279.51 L310.84,282.69 L314.01,286.16 L317.00,289.88 L319.78,293.83 L322.32,297.94 L324.60,302.18 L326.58,306.50 L328.25,310.85 L329.59,315.19 L330.59,319.46 L331.22,323.63 L331.49,327.64 L331.40,331.46 L330.94,335.03 L330.12,338.32 L328.95,341.30 L327.43,343.93 L325.60,346.18 L323.46,348.03 L321.05,349.45 L318.38,350.44" stroke-width="0.8"/>
<path d="M300.12,307.37 L301.80,310.14 L303.35,312.97 L304.78,315.84 L306.07,318.74 L307.23,321.66 L308.23,324.57 L309.09,327.47 L309.79,330.35 L310.34,333.18 L310.72,335.96 L310.94,338.67 L311.00,341.29 L310.89,343.82 L310.62,346.25 L310.18,348.55 L309.59,350.73 L308.84,352.76 L307.93,354.64 L306.88,356.36 L305.68,357.92 L304.34,359.30 L302.88,360.49 L301.28,361.50 L299.57,362.31 L297.75,362.93 L295.84,363.35 L293.83,363.56 L291.74,363.57 L289.58,363.38 L287.36,362.98 L285.09,362.38 L282.79,361.59 L280.45,360.60 L278.11,359.42 L275.75,358.06 L273.41,356.53 L271.08,354.82 L268.79,352.95 L266.54,350.93 L264.33,348.77 L262.20,346.48 L260.13,344.07 L258.15,341.55 L256.26,338.93 L254.48,336.23 L252.80,333.46 L251.25,330.63 L249.82,327.76 L248.53,324.86 L247.37,321.94 L246.37,319.03 L245.51,316.13 L244.81,313.25 L244.26,310.42 L243.88,307.64 L243.66,304.93 L243.60,302.31 L243.71,299.78 L243.98,297.35 L244.42,295.05 L245.01,292.87 L245.76,290.84 L246.67,288.96 L247.72,287.24 L248.92,285.68 L250.26,284.30 L251.72,283.11 L253.32,282.10 L255.03,281.29 L256.85,280.67 L258.76,280.25 L260.77,280.04 L262.86,280.03 L265.02,280.22 L267.24,280.62 L269.51,281.22 L271.81,282.01 L274.15,283.00 L276.49,284.18 L278.85,285.54 L281.19,287.07 L283.52,288.78 L285.81,290.65 L288.06,292.67 L290.27,294.83 L292.40,297.12 L294.47,299.53 L296.45,302.05 L298.34,304.67 L300.12,307.37" stroke-width="1.4"/>
<path d="M299.28,307.91 L300.90,310.59 L302.41,313.34 L303.80,316.12 L305.05,318.93 L306.18,321.75 L307.16,324.58 L307.99,327.39 L308.68,330.17 L309.21,332.92 L309.59,335.61 L309.81,338.23 L309.87,340.77 L309.78,343.22 L309.52,345.56 L309.11,347.79 L308.55,349.90 L307.83,351.86 L306.96,353.68 L305.95,355.35 L304.80,356.85 L303.51,358.18 L302.10,359.33 L300.56,360.30 L298.92,361.08 L297.16,361.67 L295.31,362.07 L293.38,362.27 L291.36,362.27 L289.28,362.08 L287.14,361.69 L284.95,361.10 L282.72,360.33 L280.46,359.36 L278.19,358.22 L275.92,356.89 L273.65,355.40 L271.40,353.74 L269.18,351.92 L267.00,349.96 L264.87,347.86 L262.80,345.64 L260.80,343.30 L258.88,340.85 L257.05,338.31 L255.32,335.69 L253.70,333.01 L252.19,330.26 L250.80,327.48 L249.55,324.67 L248.42,321.85 L247.44,319.02 L246.61,316.21 L245.92,313.43 L245.39,310.68 L245.01,307.99 L244.79,305.37 L244.73,302.83 L244.82,300.38 L245.08,298.04 L245.49,295.81 L246.05,293.70 L246.77,291.74 L247.64,289.92 L248.65,288.25 L249.80,286.75 L251.09,285.42 L252.50,284.27 L254.04,283.30 L255.68,282.52 L257.44,281.93 L259.29,281.53 L261.22,281.33 L263.24,281.33 L265.32,281.52 L267.46,281.91 L269.65,282.50 L271.88,283.27 L274.14,284.24 L276.41,285.38 L278.68,286.71 L280.95,288.20 L283.20,289.86 L285.42,291.68 L287.60,293.64 L289.73,295.74 L291.80,297.96 L293.80,300.30 L295.72,302.75 L297.55,305.29 L299.28,307.91" stroke-width="1.8" stroke-dasharray="1.1 0.6"/>
<path d="M298.43,308.44 L300.01,311.04 L301.47,313.70 L302.81,316.40 L304.03,319.12 L305.13,321.85 L306.08,324.59 L306.90,327.31 L307.57,330.00 L308.09,332.65 L308.46,335.26 L308.68,337.79 L308.75,340.25 L308.67,342.62 L308.43,344.88 L308.04,347.04 L307.50,349.07 L306.82,350.97 L305.99,352.72 L305.02,354.33 L303.91,355.77 L302.68,357.06 L301.32,358.16 L299.85,359.10 L298.26,359.85 L296.57,360.41 L294.79,360.79 L292.93,360.98 L290.99,360.97 L288.98,360.78 L286.91,360.40 L284.80,359.82 L282.65,359.07 L280.47,358.13 L278.28,357.01 L276.09,355.72 L273.90,354.27 L271.73,352.66 L269.58,350.90 L267.47,348.99 L265.41,346.96 L263.41,344.80 L261.47,342.53 L259.62,340.16 L257.85,337.70 L256.17,335.16 L254.59,332.56 L253.13,329.90 L251.79,327.20 L250.57,324.48 L249.47,321.75 L248.52,319.01 L247.70,316.29 L247.03,313.60 L246.51,310.95 L246.14,308.34 L245.92,305.81 L245.85,303.35 L245.93,300.98 L246.17,298.72 L246.56,296.56 L247.10,294.53 L247.78,292.63 L248.61,290.88 L249.58,289.27 L250.69,287.83 L251.92,286.54 L253.28,285.44 L254.75,284.50 L256.34,283.75 L258.03,283.19 L259.81,282.81 L261.67,282.62 L263.61,282.63 L265.62,282.82 L267.69,283.20 L269.80,283.78 L271.95,284.53 L274.13,285.47 L276.32,286.59 L278.51,287.88 L280.70,289.33 L282.87,290.94 L285.02,292.70 L287.13,294.61 L289.19,296.64 L291.19,298.80 L293.13,301.07 L294.98,303.44 L296.75,305.90 L298.43,308.44" stroke-width="1.4"/>
<path d="M306.84,350.29 L306.30,350.15 L305.76,350.00 L305.21,349.83 L304.67,349.66 L304.12,349.47 L303.57,349.27 L303.02,349.06 L302.46,348.84 L301.91,348.61 L301.35,348.36 L300.79,348.11 L300.23,347.84 L299.67,347.56 L299.11,347.27 L298.55,346.97 L297.99,346.66 L297.43,346.33 L296.87,346.00 L296.31,345.66 L295.75,345.30 L295.19,344.94 L294.63,344.56 L294.07,344.18 L293.51,343.78 L292.96,343.37 L292.40,342.96 L291.85,342.53 L291.30,342.10 L290.75,341.65 L290.20,341.20 L289.66,340.74 L289.12,340.26 L288.58,339.78 L288.04,339.29 L287.50,338.80 L286.97,338.29 L286.44,337.77 L285.92,337.25 L285.40,336.72 L284.88,336.18 L284.37,335.63 L283.86,335.08 L283.35,334.52 L282.85,333.95 L282.36,333.37 L281.86,332.79 L281.38,332.20 L280.90,331.61 L280.42,331.00 L279.95,330.40 L279.48,329.78 L279.02,329.16 L278.57,328.54 L278.12,327.91 L277.67,327.27 L277.24,326.63 L276.80,325.98 L276.38,325.33 L275.96,324.68 L275.55,324.02 L275.14,323.36 L274.75,322.69 L274.36,322.02 L273.97,321.35 L273.59,320.67 L273.22,319.99 L272.86,319.31 L272.51,318.63 L272.16,317.94 L271.82,317.25 L271.49,316.56 L271.17,315.87 L270.85,315.17 L270.54,314.48 L270.25,313.78 L269.95,313.08 L269.67,312.39 L269.40,311.69 L269.13,310.99 L268.88,310.29 L268.63,309.59 L268.39,308.89 L268.16,308.20 L267.94,307.50 L267.73,306.81 L267.52,306.11 L267.33,305.42 L267.15,304.73 L266.97,304.04 L266.81,303.35 L266.65,302.67 L266.50,301.99 L266.36,301.31 L266.24,300.63 L266.12,299.96 L266.01,299.29 L265.91,298.62 L265.82,297.96 L265.74,297.30 L265.67,296.65 L265.61,296.00 L265.56,295.35 L265.52,294.71 L265.49,294.08 L265.46,293.45 L265.45,292.82 L265.45,292.20 L265.46,291.59 L265.48,290.98 L265.50,290.38 L265.54,289.78 L265.59,289.19 L265.64,288.61 L265.71,288.03 L265.79,287.47 L265.87,286.90 L265.97,286.35 L266.07,285.80 L266.19,285.26 L266.31,284.73 L266.45,284.21 L266.59,283.70 L266.74,283.19" stroke-width="1.3"/>
<path d="M307.01,348.83 L306.47,348.66 L305.92,348.47 L305.37,348.27 L304.82,348.06 L304.26,347.84 L303.71,347.61 L303.15,347.36 L302.59,347.11 L302.03,346.84 L301.47,346.56 L300.91,346.27 L300.35,345.97 L299.79,345.66 L299.23,345.33 L298.67,345.00 L298.11,344.66 L297.55,344.30 L296.99,343.94 L296.43,343.56 L295.87,343.18 L295.31,342.78 L294.76,342.37 L294.20,341.96 L293.65,341.53 L293.10,341.10 L292.55,340.65 L292.00,340.20 L291.46,339.74 L290.92,339.26 L290.38,338.78 L289.84,338.29 L289.30,337.80 L288.77,337.29 L288.24,336.77 L287.72,336.25 L287.20,335.72 L286.68,335.18 L286.17,334.63 L285.66,334.08 L285.15,333.52 L284.65,332.95 L284.16,332.37 L283.66,331.79 L283.18,331.20 L282.70,330.61 L282.22,330.00 L281.75,329.40 L281.28,328.78 L280.82,328.16 L280.37,327.54 L279.92,326.91 L279.47,326.27 L279.04,325.63 L278.60,324.98 L278.18,324.33 L277.76,323.68 L277.35,323.02 L276.94,322.36 L276.55,321.69 L276.16,321.02 L275.77,320.35 L275.39,319.67 L275.02,318.99 L274.66,318.31 L274.31,317.63 L273.96,316.94 L273.62,316.25 L273.29,315.56 L272.97,314.87 L272.65,314.17 L272.34,313.48 L272.05,312.78 L271.75,312.08 L271.47,311.39 L271.20,310.69 L270.93,309.99 L270.68,309.29 L270.43,308.59 L270.19,307.89 L269.96,307.20 L269.74,306.50 L269.53,305.81 L269.32,305.11 L269.13,304.42 L268.95,303.73 L268.77,303.04 L268.61,302.35 L268.45,301.67 L268.30,300.99 L268.16,300.31 L268.04,299.63 L267.92,298.96 L267.81,298.29 L267.71,297.62 L267.62,296.96 L267.54,296.30 L267.47,295.65 L267.41,295.00 L267.36,294.35 L267.32,293.71 L267.29,293.08 L267.26,292.45 L267.25,291.82 L267.25,291.20 L267.26,290.59 L267.28,289.98 L267.30,289.38 L267.34,288.78 L267.39,288.19 L267.44,287.61 L267.51,287.03 L267.59,286.47 L267.67,285.90 L267.77,285.35 L267.87,284.80 L267.99,284.26 L268.11,283.73" stroke-width="0.9"/>
<path d="M281.5,281.8 L296.3,272.9 M281.5,352.9 L294.3,347"/>
<path d="M226.68,323.92 L230.01,327.10 L233.18,330.62 L236.15,334.44 L238.89,338.52 L241.37,342.80 L243.56,347.26 L245.44,351.82 L246.98,356.45 L248.18,361.09 L249.00,365.68 L249.46,370.19 L249.53,374.55 L249.23,378.72 L248.55,382.65 L247.50,386.30 L246.09,389.62 L244.34,392.58 L242.27,395.15 L239.90,397.30 L237.26,399.00 L234.37,400.23 L231.28,400.99 L228.01,401.25 L224.60,401.03 L221.09,400.31 L217.52,399.12 L213.93,397.46 L210.35,395.35 L206.84,392.81 L203.42,389.88 L200.14,386.59 L197.03,382.96 L194.13,379.06 L191.47,374.90 L189.08,370.56 L186.99,366.06 L185.22,361.47 L183.79,356.83 L182.71,352.20 L182.01,347.63 L181.68,343.17 L181.72,338.86 L182.15,334.77 L182.96,330.93 L184.12,327.38 L185.65,324.17 L187.50,321.33 L189.67,318.90 L192.14,316.90 L194.86,315.35 L197.82,314.27 L200.97,313.67 L204.29,313.57" stroke-width="1.1"/>
<path d="M228.08,323.12 L231.39,326.28 L234.55,329.79 L237.51,333.58 L240.24,337.64 L242.71,341.90 L244.90,346.33 L246.78,350.87 L248.33,355.48 L249.53,360.10 L250.37,364.67 L250.84,369.16 L250.94,373.51 L250.66,377.68 L250.00,381.60 L248.98,385.25 L247.60,388.59 L245.89,391.57 L243.85,394.16 L241.52,396.33 L238.91,398.06 L236.06,399.33" stroke-width="0.9"/>
<path d="M225.90,326.26 L229.00,329.22 L231.95,332.49 L234.71,336.05 L237.26,339.84 L239.56,343.83 L241.60,347.97 L243.35,352.21 L244.79,356.52 L245.90,360.83 L246.67,365.10 L247.09,369.29 L247.16,373.35 L246.87,377.23 L246.24,380.88 L245.26,384.27 L243.95,387.37 L242.33,390.12 L240.40,392.51 L238.20,394.51 L235.74,396.09 L233.06,397.23 L230.18,397.94 L227.14,398.18 L223.97,397.97 L220.71,397.31 L217.38,396.20 L214.04,394.65 L210.72,392.69 L207.45,390.33 L204.27,387.61 L201.22,384.54 L198.33,381.17 L195.63,377.54 L193.16,373.68 L190.94,369.64 L188.99,365.46 L187.35,361.19 L186.01,356.87 L185.01,352.57 L184.36,348.32 L184.05,344.16 L184.10,340.16 L184.49,336.35 L185.24,332.78 L186.33,329.48 L187.74,326.50 L189.47,323.86 L191.49,321.59 L193.78,319.73 L196.31,318.29 L199.06,317.29 L202.00,316.73 L205.08,316.64" stroke-width="0.9"/>
<path d="M225.68,326.93 L228.71,329.83 L231.59,333.03 L234.30,336.51 L236.79,340.22 L239.05,344.12 L241.04,348.17 L242.75,352.32 L244.16,356.53 L245.24,360.76 L246.00,364.94 L246.41,369.04 L246.48,373.01 L246.20,376.80 L245.58,380.38 L244.63,383.70 L243.34,386.72 L241.75,389.42 L239.87,391.76 L237.71,393.71 L235.31,395.26 L232.68,396.38 L229.87,397.06 L226.89,397.31 L223.79,397.10 L220.60,396.45 L217.35,395.36 L214.08,393.85 L210.82,391.93 L207.62,389.63 L204.52,386.96 L201.53,383.96 L198.70,380.66 L196.06,377.11 L193.64,373.33 L191.47,369.37 L189.57,365.28 L187.95,361.11 L186.65,356.89 L185.67,352.67 L185.03,348.51 L184.73,344.45 L184.77,340.53 L185.16,336.81 L185.89,333.31 L186.96,330.08 L188.34,327.16 L190.03,324.58 L192.01,322.36 L194.25,320.54 L196.73,319.13 L199.42,318.15 L202.29,317.61 L205.31,317.51" stroke-width="1.0"/>
<path d="M226.68,323.92 L225.68,326.93"/>
<path d="M204.29,313.57 L205.31,317.51"/>
<ellipse cx="205.60" cy="318.60" rx="1.60" ry="1.90" transform="rotate(0 205.60 318.60)" stroke-width="1.2"/>
<ellipse cx="225.00" cy="329.20" rx="1.60" ry="1.90" transform="rotate(0 225.00 329.20)" stroke-width="1.2"/>
<path d="M173.23,436.69 L170.76,437.92 L168.04,438.69 L165.10,439.00 L161.97,438.83 L158.68,438.20 L155.28,437.10 L151.79,435.55 L148.26,433.57 L144.73,431.17 L141.23,428.40 L137.80,425.26 L134.48,421.81 L131.30,418.07 L128.31,414.09 L125.53,409.92 L122.99,405.59 L120.73,401.15 L118.76,396.66 L117.11,392.16 L115.80,387.71 L114.84,383.34 L114.24,379.11 L114.00,375.07 L114.14,371.26 L114.65,367.72 L115.51,364.49 L116.74,361.60 L118.30,359.09 L120.19,356.99 L122.37,355.31 L135.37,347.81 L137.84,346.58 L140.56,345.81 L143.50,345.50 L146.63,345.67 L149.92,346.30 L153.32,347.40 L156.81,348.95 L160.34,350.93 L163.87,353.33 L167.37,356.10 L170.80,359.24 L174.12,362.69 L177.30,366.43 L180.29,370.41 L183.07,374.58 L185.61,378.91 L187.87,383.35 L189.84,387.84 L191.49,392.34 L192.80,396.79 L193.76,401.16 L194.36,405.39 L194.60,409.43 L194.46,413.24 L193.95,416.78 L193.09,420.01 L191.86,422.90 L190.30,425.41 L188.41,427.51 L186.23,429.19 Z" fill="#fff" stroke-width="1.1"/>
<ellipse cx="147.80" cy="396.00" rx="23.66" ry="43.23" transform="rotate(-32 147.80 396.00)" stroke-width="1.0"/>
<ellipse cx="148.95" cy="396.00" rx="19.76" ry="36.10" transform="rotate(-32 148.95 396.00)" stroke-width="1.1"/>
<ellipse cx="148.05" cy="396.00" rx="17.42" ry="31.83" transform="rotate(-32 148.05 396.00)" stroke-width="1.0"/>
<ellipse cx="147.80" cy="396.00" rx="15.08" ry="27.55" transform="rotate(-32 147.80 396.00)" stroke-width="1.1"/>
<ellipse cx="147.15" cy="396.00" rx="13.52" ry="24.70" transform="rotate(-32 147.15 396.00)" stroke-width="1.2"/>
<path d="M173.47,418.84 L173.30,419.15 L173.11,419.45 L172.93,419.74 L172.73,420.03 L172.53,420.31 L172.32,420.58 L172.10,420.84 L171.88,421.09 L171.66,421.34 L171.42,421.58 L171.18,421.81 L170.94,422.03 L170.69,422.24 L170.43,422.44 L170.17,422.64 L169.90,422.83 L169.62,423.00 L169.34,423.17 L169.06,423.33 L168.77,423.48 L168.47,423.62 L168.17,423.76 L167.86,423.88 L167.55,424.00 L167.24,424.10 L166.92,424.20 L166.59,424.29 L166.26,424.36 L165.93,424.43 L165.59,424.49 L165.24,424.54 L164.90,424.58 L164.55,424.61 L164.19,424.64 L163.83,424.65 L163.47,424.65 L163.10,424.65 L162.73,424.63 L162.36,424.61 L161.98,424.57 L161.60,424.53 L161.22,424.48 L160.83,424.42 L160.44,424.35 L160.05,424.27 L159.65,424.18 L159.26,424.08 L158.86,423.97 L158.46,423.85 L158.05,423.73 L157.65,423.59 L157.24,423.45 L156.83,423.29 L156.42,423.13 L156.01,422.96 L155.59,422.78 L155.18,422.59 L154.76,422.40 L154.35,422.19 L153.93,421.98 L153.51,421.75 L153.09,421.52 L152.67,421.28 L152.25,421.04 L151.83,420.78 L151.41,420.51 L150.99,420.24 L150.57,419.96 L150.15,419.67 L149.73,419.38 L149.31,419.07 L148.89,418.76 L148.47,418.44 L148.06,418.12 L147.64,417.78 L147.23,417.44 L146.81,417.09 L146.40,416.74 L145.99,416.38 L145.58,416.01 L145.18,415.63 L144.77,415.25 L144.37,414.86 L143.97,414.46 L143.57,414.06 L143.17,413.66 L142.78,413.24 L142.39,412.82 L142.00,412.40 L141.62,411.97 L141.23,411.53 L140.86,411.09 L140.48,410.64 L140.11,410.19 L139.74,409.73 L139.37,409.27 L139.01,408.81 L138.66,408.34 L138.30,407.86 L137.95,407.38 L137.61,406.90 L137.26,406.41 L136.93,405.92 L136.59,405.42 L136.27,404.93 L135.94,404.42 L135.62,403.92 L135.31,403.41 L135.00,402.90 L134.70,402.39 L134.40,401.87 L134.11,401.35 L133.82,400.83 L133.53,400.31 L133.26,399.79 L132.98,399.26 L132.72,398.73 L132.46,398.20 L132.20,397.67 L131.95,397.14 L131.71,396.61 L131.47,396.08 L131.24,395.54 L131.02,395.01 L130.80,394.47 L130.59,393.94 L130.38,393.40 L130.18,392.87 L129.99,392.33 L129.81,391.80 L129.63,391.27 L129.45,390.73 L129.29,390.20 L129.13,389.67 L128.97,389.14 L128.83,388.62 L128.69,388.09 L128.56,387.57 L128.43,387.04 L128.32,386.52 L128.20,386.01 L128.10,385.49 L128.00,384.98 L127.91,384.47 L127.83,383.96 L127.76,383.46 L127.69,382.96 L127.63,382.46 L127.58,381.97 L127.53,381.47 L127.49,380.99 L127.46,380.51 L127.44,380.03 L127.42,379.55 L127.41,379.08 L127.41,378.62 L127.41,378.16 L127.42,377.70 L127.44,377.25 L127.47,376.81 L127.51,376.37 L127.55,375.93 L127.60,375.50 L127.65,375.08 L127.72,374.66 L127.79,374.25 L127.87,373.84 L127.95,373.44 L128.05,373.05 L128.14,372.66 L128.25,372.28 L128.37,371.91 L128.49,371.54 L128.61,371.18 L128.75,370.82 L128.89,370.48 L129.04,370.14 L129.20,369.81 L129.36,369.48 L129.53,369.16 L129.70,368.85 L129.89,368.55 L130.07,368.26 L130.27,367.97 L130.47,367.69 L130.68,367.42 L130.90,367.16 L131.12,366.91 L131.34,366.66 L131.58,366.42 L131.82,366.19 L132.06,365.97 L132.31,365.76 L132.57,365.56 L132.83,365.36 L133.10,365.17 L133.38,365.00 L133.66,364.83 L133.94,364.67 L134.23,364.52 L134.53,364.38 L134.83,364.24 L135.14,364.12 L135.45,364.00 L135.76,363.90 L136.08,363.80 L136.41,363.71" stroke-width="0.8"/>
<path d="M174.57,405.06 L174.12,406.73 L173.48,408.22 L172.67,409.52 L171.69,410.61 L170.55,411.47 L169.27,412.10 L167.86,412.49 L166.33,412.64 L164.71,412.54 L163.00,412.20 L161.24,411.61 L159.43,410.80 L157.60,409.76 L155.77,408.50 L153.96,407.05 L152.19,405.41 L150.48,403.60 L148.84,401.66 L147.30,399.58 L145.88,397.41 L144.58,395.16 L143.43,392.86 L142.43,390.53 L141.60,388.21 L140.94,385.90 L140.47,383.65 L140.19,381.48 L140.10,379.40 L140.20,377.45" stroke-dasharray="2 0.8" stroke-width="1.5"/>
<path d="M124,372 L128,366 L133,370 M131,364 L138,360 L140,366" stroke-width="0.9"/>
<path d="M148.6,358.7 L161.6,351.5"/>
<path d="M156,432 L170,424"/>
<path d="M100.03,398.16 L103.48,401.60 L106.78,405.35 L109.88,409.36 L112.77,413.58 L115.39,417.97 L117.73,422.48 L119.75,427.05 L121.45,431.65 L122.79,436.22 L123.76,440.70 L124.35,445.05 L124.56,449.23 L124.38,453.17 L123.82,456.85 L122.88,460.22 L121.57,463.24 L119.91,465.89 L117.91,468.12 L115.60,469.92 L112.99,471.26 L110.13,472.14 L107.05,472.54 L103.77,472.45 L100.33,471.89 L96.77,470.84 L93.13,469.34 L89.45,467.38 L85.77,465.00 L82.13,462.23 L78.58,459.08 L75.14,455.59 L71.87,451.82 L68.78,447.78 L65.93,443.54 L63.34,439.14 L61.03,434.62 L59.04,430.04 L57.39,425.44 L56.09,420.88 L55.16,416.41 L54.61,412.08 L54.44,407.92 L54.66,404.00 L55.26,400.36 L56.25,397.03 L57.60,394.04 L59.30,391.45 L61.33,389.26 L63.68,387.51 L66.31,386.22 L69.20,385.39 L72.31,385.05 L75.61,385.19 L79.06,385.81" stroke-width="1.1"/>
<path d="M101.43,397.36 L105.04,400.97 L108.47,404.90 L111.69,409.12 L114.66,413.56 L117.34,418.18 L119.71,422.91 L121.73,427.71 L123.37,432.51 L124.63,437.26 L125.47,441.89 L125.90,446.36 L125.91,450.60 L125.50,454.57 L124.67,458.23 L123.43,461.51 L121.80,464.40 L119.80,466.84 L117.45,468.82 L114.78,470.30" stroke-width="0.9"/>
<path d="M99.30,400.30 L102.50,403.51 L105.57,406.99 L108.46,410.72 L111.14,414.64 L113.58,418.73 L115.75,422.92 L117.64,427.18 L119.21,431.45 L120.46,435.70 L121.36,439.87 L121.91,443.92 L122.11,447.80 L121.94,451.47 L121.42,454.89 L120.54,458.02 L119.33,460.83 L117.78,463.29 L115.92,465.37 L113.77,467.04 L111.35,468.29 L108.69,469.11 L105.82,469.48 L102.77,469.40 L99.57,468.87 L96.26,467.90 L92.87,466.50 L89.45,464.68 L86.03,462.47 L82.65,459.89 L79.34,456.96 L76.15,453.72 L73.10,450.21 L70.23,446.46 L67.58,442.51 L65.17,438.42 L63.03,434.21 L61.17,429.95 L59.64,425.68 L58.43,421.44 L57.56,417.28 L57.05,413.25 L56.89,409.39 L57.10,405.74 L57.66,402.35 L58.57,399.25 L59.83,396.48 L61.41,394.06 L63.30,392.03 L65.49,390.40 L67.93,389.20 L70.62,388.43 L73.51,388.11 L76.58,388.24 L79.79,388.82" stroke-width="0.9"/>
<path d="M99.08,400.92 L102.22,404.05 L105.22,407.46 L108.05,411.11 L110.67,414.95 L113.06,418.94 L115.19,423.04 L117.03,427.21 L118.57,431.39 L119.79,435.55 L120.67,439.63 L121.22,443.59 L121.41,447.39 L121.24,450.98 L120.73,454.33 L119.88,457.39 L118.68,460.14 L117.17,462.55 L115.35,464.58 L113.25,466.22 L110.88,467.44 L108.28,468.24 L105.47,468.60 L102.48,468.52 L99.35,468.01 L96.11,467.06 L92.80,465.69 L89.45,463.91 L86.11,461.75 L82.80,459.22 L79.56,456.35 L76.44,453.18 L73.45,449.75 L70.65,446.08 L68.05,442.22 L65.69,438.21 L63.60,434.10 L61.78,429.93 L60.28,425.74 L59.10,421.59 L58.25,417.53 L57.75,413.58 L57.59,409.80 L57.79,406.24 L58.34,402.92 L59.24,399.89 L60.47,397.17 L62.02,394.81 L63.87,392.82 L66.00,391.23 L68.40,390.05 L71.02,389.30 L73.85,388.99 L76.86,389.11 L80.00,389.68" stroke-width="1.0"/>
<path d="M100.03,398.16 L99.08,400.92"/>
<path d="M79.06,385.81 L80.00,389.68"/>
<ellipse cx="80.20" cy="390.40" rx="1.60" ry="1.90" transform="rotate(0 80.20 390.40)" stroke-width="1.2"/>
<ellipse cx="98.90" cy="402.00" rx="1.60" ry="1.90" transform="rotate(0 98.90 402.00)" stroke-width="1.2"/>
<path d="M0,460 L17.5,470" />
<path d="M21.25,469.45 L156.00,391.78" stroke-dasharray="22 3.3 4.5 3.3"/>
<path d="M189.60,372.42 L292.00,313.39" stroke-dasharray="22 3.3 4.5 3.3"/>
<path d="M328.00,292.64 L389.30,257.31" stroke-dasharray="22 3.3 4.5 3.3"/>
<path d="M447.00,224.05 L656.00,103.59" stroke-dasharray="22 3.3 4.5 3.3"/>
<path d="M93.75,530.2 L115,550.9 L582.4,288.5 L589.6,259.4" />
<path d="M374.3,405.2 L395.6,417.3" />
<path d="M407.4,419.3 C406.6,417.6 405.3,416.8 403.7,416.8 C400.6,416.8 398.8,420.2 398.8,426.8 C398.8,430.8 400.7,432.9 403.4,432.9 C406.2,432.9 408.0,431.0 408.0,428.3 C408.0,425.6 406.2,423.8 403.5,423.8 C401.0,423.8 399.1,425.6 398.9,427.5" stroke-width="1.2"/>
</svg>
</body></html>
